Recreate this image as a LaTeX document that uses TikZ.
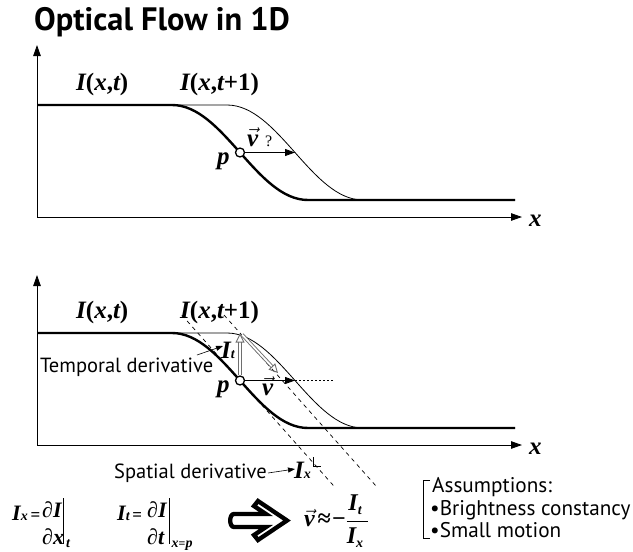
\documentclass[tikz,border=0pt]{standalone}
\usepackage{fix-cm}
\usepackage{amsmath}
\usepackage{fontspec}
\usetikzlibrary{arrows.meta}
\newfontfamily\mf{Liberation Serif}
\newfontfamily\sff{PT Sans}
\newcommand\mi[1]{\hbox{\mf\bfseries\itshape #1}}
\newcommand\mr[1]{\hbox{\mf\bfseries #1}}
\newcommand\msub[1]{\hbox{\mf\bfseries\itshape\fontsize{14}{14}\selectfont #1}}
\newcommand\msubr[1]{\hbox{\mf\bfseries\fontsize{12}{12}\selectfont #1}}
\newcommand\meq{\hbox{\mf\bfseries\fontsize{17}{17}\selectfont\,=}}
\newcommand\vecv{\ensuremath{\vec{\mi{v}}}}
\begin{document}
\begin{tikzpicture}[x=1pt,y=-1pt,
  axisline/.style={line width=0.9pt, -{Triangle[length=11pt,width=7.5pt]}},
  thickcurve/.style={line width=2.4pt},
  thincurve/.style={line width=0.8pt},
  pdot/.style={circle, draw, line width=1.3pt, fill=white, inner sep=0pt, minimum size=9pt},
  vecarrow/.style={line width=0.9pt, -{Triangle[length=10pt,width=7pt]}},
  hollowarrow/.style={draw={rgb,255:red,110;green,110;blue,110}, line width=0.9pt, double=white, double distance=1.7pt, -{Triangle[open, length=9pt, width=9pt]}},
  tangent/.style={line width=0.7pt, dash pattern=on 4pt off 4pt},
  lbl/.style={font=\fontsize{25}{25}\selectfont, inner sep=0pt},
  fpart/.style={font=\fontsize{22}{22}\selectfont, inner sep=0pt},
  sanslbl/.style={font=\sff\fontsize{20.5}{20.5}\selectfont, inner sep=0pt},
  asm/.style={font=\sff\fontsize{21.2}{21.2}\selectfont, inner sep=0pt},
  ptr/.style={line width=0.6pt, -{Triangle[length=7pt,width=5pt]}},
  fml/.style={font=\fontsize{24}{24}\selectfont, inner sep=0pt}
]
\useasboundingbox (0,0) rectangle (633,552);
\node[anchor=base west, inner sep=0pt, font=\sff\bfseries\fontsize{32.4}{32.4}\selectfont] (title) at (34,30) {Optical Flow in 1D};

% ---------- top plot ----------
\coordinate (o1) at (37,217);
\coordinate (ya1) at (37,45);
\coordinate (xa1) at (522,217);
\draw[axisline] (o1) -- (ya1);
\draw[axisline] (o1) -- (xa1);
\node[anchor=base west, lbl] (xl1) at (529,226) {\mi{x}};
\draw[thincurve] (37,105) -- (227,105) .. controls (278.5,105) and (311.5,200) .. (363,200) -- (515,200);
\draw[thickcurve] (37,105) -- (172,105) .. controls (223.5,105) and (256.5,200) .. (308,200) -- (515,200);
\node[anchor=base west, lbl] (it1) at (76,90) {\mi{I}\mr{(}\mi{x}\mr{,}\mi{t}\mr{)}};
\node[anchor=base west, lbl] (itt1) at (180,90) {\mi{I}\mr{(}\mi{x}\mr{,}\mi{t}\mr{+1)}};
\node[pdot] (p1) at (240,152.5) {};
\coordinate (q1) at (295,152.5);
\draw[vecarrow] (p1) -- (q1);
\node[anchor=base west, lbl] (pl1) at (217,164) {\mi{p}};
\node[anchor=base west, lbl] (v1) at (247,146) {\vecv};
\node[anchor=base west, inner sep=0pt, font=\mf\fontsize{16}{16}\selectfont] (qm1) at (265,146) {?};

% ---------- bottom plot ----------
\begin{scope}[shift={(0,228)}]
\coordinate (o2) at (37,217);
\coordinate (ya2) at (37,47);
\coordinate (xa2) at (522,217);
\draw[axisline] (o2) -- (ya2);
\draw[axisline] (o2) -- (xa2);
\node[anchor=base west, lbl] (xl2) at (529,226) {\mi{x}};
\draw[thincurve] (37,105) -- (227,105) .. controls (278.5,105) and (311.5,200) .. (363,200) -- (515,200);
\draw[thickcurve] (37,105) -- (172,105) .. controls (223.5,105) and (256.5,200) .. (308,200) -- (515,200);
\node[anchor=base west, lbl] (it2) at (76,90) {\mi{I}\mr{(}\mi{x}\mr{,}\mi{t}\mr{)}};
\node[anchor=base west, lbl] (itt2) at (180,90) {\mi{I}\mr{(}\mi{x}\mr{,}\mi{t}\mr{+1)}};
% tangent lines
\coordinate (ta) at (181.8,87);
\coordinate (tb) at (335.6,260);
\coordinate (tc) at (224,87);
\coordinate (td) at (377.8,260);
\draw[tangent] (ta) -- (tb);
\draw[tangent] (tc) -- (td);
\node[pdot] (p2) at (240,152.5) {};
\coordinate (top2) at (240,105.5);
\coordinate (dstart) at (242,106.5);
\coordinate (diag2) at (278,145);
\draw[hollowarrow] (p2) -- (top2);
\draw[hollowarrow] (dstart) -- (diag2);
\coordinate (q2) at (295,152.5);
\coordinate (r2) at (334,152.5);
\draw[vecarrow] (p2) -- (q2);
\draw[line width=0.7pt, dash pattern=on 2pt off 2pt] (q2) -- (r2);
\node[anchor=base west, lbl] (pl2) at (217,164) {\mi{p}};
\node[anchor=base west, lbl] (v2) at (262,167) {\vecv};
\node[anchor=base west, lbl] (itl) at (221,130) {\mi{I}\msub{t}};
\node[anchor=base west, sanslbl] (tdl) at (40,144) {Temporal derivative};
\coordinate (tds) at (197,127);
\coordinate (tdt) at (223,118);
\draw[ptr] (tds) -- (tdt);
\node[anchor=base west, lbl] (ixl) at (294,250) {\mi{I}\msub{x}};
\node[anchor=base east, sanslbl] (sdl) at (267,250) {Spatial derivative};
\coordinate (sds) at (268,245);
\coordinate (sdt) at (295,241);
\draw[ptr] (sds) -- (sdt);
\draw[line width=0.7pt] (313,229) -- (313,238) -- (321,238);
\end{scope}

% ---------- formula 1 ----------
\node[anchor=base west, fpart] (f1a) at (12,520) {\mi{I}\msub{x}\meq};
\node[anchor=base west, fpart] (f1n) at (42,517) {\mr{∂}\mi{I}};
\node[anchor=base west, fpart] (f1d) at (42,544) {\mr{∂}\mi{x}};
\coordinate (f1b1) at (63.5,498);
\coordinate (f1b2) at (63.5,544);
\draw[line width=0.9pt] (f1b1) -- (f1b2);
\node[anchor=base west, inner sep=0pt] (f1s) at (66,547) {\msub{t}};
% ---------- formula 2 ----------
\node[anchor=base west, fpart] (f2a) at (117,520) {\mi{I}\msub{t}\meq};
\node[anchor=base west, fpart] (f2n) at (147,517) {\mr{∂}\mi{I}};
\node[anchor=base west, fpart] (f2d) at (147,544) {\mr{∂}\mi{t}};
\coordinate (f2b1) at (169.5,498);
\coordinate (f2b2) at (169.5,544);
\draw[line width=0.9pt] (f2b1) -- (f2b2);
\node[anchor=base west, inner sep=0pt] (f2s) at (171.5,547) {\msub{x}\msubr{=}\msub{p}};
% ---------- big arrow ----------
\draw[line width=4.3pt, line join=miter] (240,514) -- (266,514) -- (254,506) -- (258,501) -- (287,520.5) -- (258,540) -- (254,535) -- (266,527) -- (234,527) to[out=180,in=180] (234,514) -- cycle;
% ---------- formula 3 ----------
\node[anchor=west, fml] (fv) at (304,521) {$\vec{\mi{v}}\mkern2mu\mr{≈}\mkern1mu\mr{−}\genfrac{}{}{0.8pt}{0}{\mi{I}_{\msub{t}}\,}{\mi{I}_{\msub{x}}\,}$};

% ---------- assumptions ----------
\draw[line width=0.8pt] (430,480) -- (423,480) -- (423,538) -- (430,538);
\node[anchor=base west, asm] (as) at (432,492) {Assumptions:};
\node[anchor=base west, asm] (b1) at (430,515) {•Brightness constancy};
\node[anchor=base west, asm] (b2) at (430,537) {•Small motion};
\end{tikzpicture}
\end{document}
